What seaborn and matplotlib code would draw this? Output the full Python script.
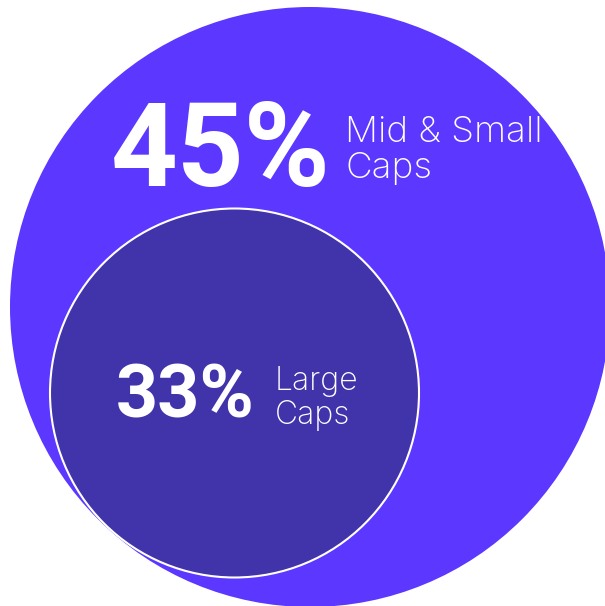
import matplotlib
matplotlib.use("Agg")
import matplotlib.pyplot as plt
from matplotlib.patches import Circle
import seaborn as sns

# segment data
segments = ["Mid & Small\nCaps", "Large\nCaps"]
shares = [45, 33]
colors = ["#5B37FF", "#4133AA"]

sns.set_theme(style="white")
plt.rcParams['font.family'] = ['Inter', 'DejaVu Sans']

fig = plt.figure(figsize=(6.05, 6.06), dpi=100)
ax = fig.add_axes([0, 0, 1, 1])
ax.set_xlim(0, 605)
ax.set_ylim(606, 0)
ax.set_aspect("equal")
ax.axis("off")

# outer bubble (mid & small), inner bubble (large)
ax.add_patch(Circle((310, 307), 300, facecolor=colors[0], edgecolor="none"))
ax.add_patch(Circle((234.5, 393), 184.5, facecolor=colors[1],
                    edgecolor="white", linewidth=1.5))

# labels
num_font = ['Roboto', 'DejaVu Sans']
ax.text(111, 186, f"{shares[0]}%", color="white", fontsize=84,
        fontweight="bold", family=num_font, ha="left", va="baseline")
ax.text(345, 178, segments[0], color="white", fontsize=26.5,
        fontweight="light", ha="left", va="baseline", linespacing=1.1)

ax.text(116, 418, f"{shares[1]}%", color="white", fontsize=53,
        fontweight="bold", family=num_font, ha="left", va="baseline")
ax.text(275, 424, segments[1], color="white", fontsize=23,
        fontweight="light", ha="left", va="baseline", linespacing=1.12)

fig.savefig("out.png", dpi=100)
